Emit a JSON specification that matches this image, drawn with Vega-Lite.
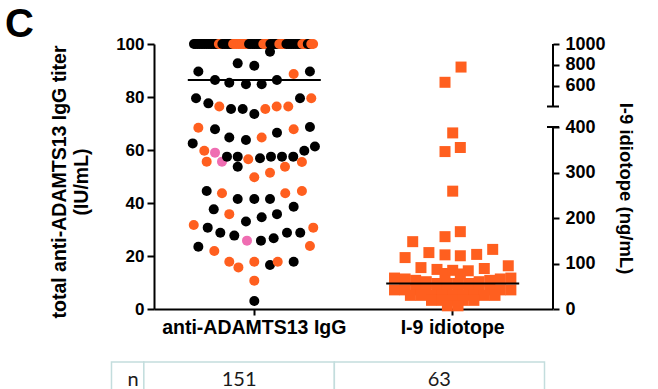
{
 "$schema": "https://vega.github.io/schema/vega-lite/v6.json",
 "background": "white",
 "padding": {"left": 5, "top": 5, "right": 0, "bottom": 0},
 "config": {"view": {"stroke": null}, "font": "Liberation Sans", "axis": {"grid": false}},
 "title": {"text": "C", "anchor": "start", "frame": "group", "dx": -149, "offset": -10, "fontSize": 40, "fontWeight": "bold", "color": "black", "font": "Liberation Sans"},
 "datasets": {
  "igg": [
   {"g":"anti-ADAMTS13 IgG","v":100,"j":-0.76,"s":"A"},
   {"g":"anti-ADAMTS13 IgG","v":100,"j":-0.738,"s":"A"},
   {"g":"anti-ADAMTS13 IgG","v":100,"j":-0.715,"s":"A"},
   {"g":"anti-ADAMTS13 IgG","v":100,"j":-0.693,"s":"A"},
   {"g":"anti-ADAMTS13 IgG","v":100,"j":-0.67,"s":"A"},
   {"g":"anti-ADAMTS13 IgG","v":100,"j":-0.648,"s":"A"},
   {"g":"anti-ADAMTS13 IgG","v":100,"j":-0.626,"s":"A"},
   {"g":"anti-ADAMTS13 IgG","v":100,"j":-0.603,"s":"A"},
   {"g":"anti-ADAMTS13 IgG","v":100,"j":-0.581,"s":"A"},
   {"g":"anti-ADAMTS13 IgG","v":100,"j":-0.558,"s":"A"},
   {"g":"anti-ADAMTS13 IgG","v":100,"j":-0.536,"s":"A"},
   {"g":"anti-ADAMTS13 IgG","v":100,"j":-0.514,"s":"A"},
   {"g":"anti-ADAMTS13 IgG","v":100,"j":-0.491,"s":"A"},
   {"g":"anti-ADAMTS13 IgG","v":100,"j":-0.469,"s":"A"},
   {"g":"anti-ADAMTS13 IgG","v":100,"j":-0.446,"s":"B"},
   {"g":"anti-ADAMTS13 IgG","v":100,"j":-0.424,"s":"B"},
   {"g":"anti-ADAMTS13 IgG","v":100,"j":-0.402,"s":"A"},
   {"g":"anti-ADAMTS13 IgG","v":100,"j":-0.379,"s":"A"},
   {"g":"anti-ADAMTS13 IgG","v":100,"j":-0.357,"s":"A"},
   {"g":"anti-ADAMTS13 IgG","v":100,"j":-0.334,"s":"A"},
   {"g":"anti-ADAMTS13 IgG","v":100,"j":-0.312,"s":"A"},
   {"g":"anti-ADAMTS13 IgG","v":100,"j":-0.29,"s":"A"},
   {"g":"anti-ADAMTS13 IgG","v":100,"j":-0.267,"s":"B"},
   {"g":"anti-ADAMTS13 IgG","v":100,"j":-0.245,"s":"B"},
   {"g":"anti-ADAMTS13 IgG","v":100,"j":-0.222,"s":"B"},
   {"g":"anti-ADAMTS13 IgG","v":100,"j":-0.2,"s":"B"},
   {"g":"anti-ADAMTS13 IgG","v":100,"j":-0.178,"s":"B"},
   {"g":"anti-ADAMTS13 IgG","v":100,"j":-0.155,"s":"B"},
   {"g":"anti-ADAMTS13 IgG","v":100,"j":-0.133,"s":"B"},
   {"g":"anti-ADAMTS13 IgG","v":100,"j":-0.11,"s":"B"},
   {"g":"anti-ADAMTS13 IgG","v":100,"j":-0.088,"s":"B"},
   {"g":"anti-ADAMTS13 IgG","v":100,"j":-0.066,"s":"A"},
   {"g":"anti-ADAMTS13 IgG","v":100,"j":-0.043,"s":"A"},
   {"g":"anti-ADAMTS13 IgG","v":100,"j":-0.021,"s":"A"},
   {"g":"anti-ADAMTS13 IgG","v":100,"j":0.002,"s":"A"},
   {"g":"anti-ADAMTS13 IgG","v":100,"j":0.024,"s":"A"},
   {"g":"anti-ADAMTS13 IgG","v":100,"j":0.046,"s":"A"},
   {"g":"anti-ADAMTS13 IgG","v":100,"j":0.069,"s":"A"},
   {"g":"anti-ADAMTS13 IgG","v":100,"j":0.091,"s":"A"},
   {"g":"anti-ADAMTS13 IgG","v":100,"j":0.114,"s":"B"},
   {"g":"anti-ADAMTS13 IgG","v":100,"j":0.136,"s":"B"},
   {"g":"anti-ADAMTS13 IgG","v":100,"j":0.158,"s":"B"},
   {"g":"anti-ADAMTS13 IgG","v":100,"j":0.181,"s":"B"},
   {"g":"anti-ADAMTS13 IgG","v":100,"j":0.203,"s":"A"},
   {"g":"anti-ADAMTS13 IgG","v":100,"j":0.226,"s":"A"},
   {"g":"anti-ADAMTS13 IgG","v":100,"j":0.248,"s":"A"},
   {"g":"anti-ADAMTS13 IgG","v":100,"j":0.27,"s":"A"},
   {"g":"anti-ADAMTS13 IgG","v":100,"j":0.293,"s":"A"},
   {"g":"anti-ADAMTS13 IgG","v":100,"j":0.315,"s":"B"},
   {"g":"anti-ADAMTS13 IgG","v":100,"j":0.338,"s":"B"},
   {"g":"anti-ADAMTS13 IgG","v":100,"j":0.36,"s":"B"},
   {"g":"anti-ADAMTS13 IgG","v":100,"j":0.382,"s":"B"},
   {"g":"anti-ADAMTS13 IgG","v":100,"j":0.405,"s":"A"},
   {"g":"anti-ADAMTS13 IgG","v":100,"j":0.427,"s":"A"},
   {"g":"anti-ADAMTS13 IgG","v":100,"j":0.45,"s":"A"},
   {"g":"anti-ADAMTS13 IgG","v":100,"j":0.472,"s":"A"},
   {"g":"anti-ADAMTS13 IgG","v":100,"j":0.494,"s":"A"},
   {"g":"anti-ADAMTS13 IgG","v":100,"j":0.517,"s":"A"},
   {"g":"anti-ADAMTS13 IgG","v":100,"j":0.539,"s":"A"},
   {"g":"anti-ADAMTS13 IgG","v":100,"j":0.562,"s":"A"},
   {"g":"anti-ADAMTS13 IgG","v":100,"j":0.584,"s":"A"},
   {"g":"anti-ADAMTS13 IgG","v":100,"j":0.606,"s":"B"},
   {"g":"anti-ADAMTS13 IgG","v":100,"j":0.629,"s":"B"},
   {"g":"anti-ADAMTS13 IgG","v":100,"j":0.651,"s":"B"},
   {"g":"anti-ADAMTS13 IgG","v":100,"j":0.674,"s":"A"},
   {"g":"anti-ADAMTS13 IgG","v":100,"j":0.696,"s":"A"},
   {"g":"anti-ADAMTS13 IgG","v":100,"j":0.718,"s":"B"},
   {"g":"anti-ADAMTS13 IgG","v":100,"j":0.741,"s":"B"},
   {"g":"anti-ADAMTS13 IgG","v":97.1,"j":0.198,"s":"A"},
   {"g":"anti-ADAMTS13 IgG","v":92.7,"j":-0.209,"s":"A"},
   {"g":"anti-ADAMTS13 IgG","v":91.8,"j":0,"s":"A"},
   {"g":"anti-ADAMTS13 IgG","v":89.6,"j":-0.705,"s":"A"},
   {"g":"anti-ADAMTS13 IgG","v":88.7,"j":0.496,"s":"B"},
   {"g":"anti-ADAMTS13 IgG","v":89.6,"j":0.701,"s":"A"},
   {"g":"anti-ADAMTS13 IgG","v":86.4,"j":-0.495,"s":"A"},
   {"g":"anti-ADAMTS13 IgG","v":85.4,"j":-0.315,"s":"A"},
   {"g":"anti-ADAMTS13 IgG","v":84.8,"j":-0.105,"s":"A"},
   {"g":"anti-ADAMTS13 IgG","v":84.8,"j":0.093,"s":"A"},
   {"g":"anti-ADAMTS13 IgG","v":86.4,"j":0.285,"s":"A"},
   {"g":"anti-ADAMTS13 IgG","v":79.5,"j":-0.734,"s":"A"},
   {"g":"anti-ADAMTS13 IgG","v":77.6,"j":-0.579,"s":"A"},
   {"g":"anti-ADAMTS13 IgG","v":76.4,"j":-0.441,"s":"B"},
   {"g":"anti-ADAMTS13 IgG","v":75.5,"j":-0.293,"s":"A"},
   {"g":"anti-ADAMTS13 IgG","v":75.5,"j":-0.146,"s":"A"},
   {"g":"anti-ADAMTS13 IgG","v":73.6,"j":0,"s":"A"},
   {"g":"anti-ADAMTS13 IgG","v":75.5,"j":0.139,"s":"B"},
   {"g":"anti-ADAMTS13 IgG","v":76.4,"j":0.282,"s":"B"},
   {"g":"anti-ADAMTS13 IgG","v":76.4,"j":0.428,"s":"B"},
   {"g":"anti-ADAMTS13 IgG","v":79.5,"j":0.576,"s":"A"},
   {"g":"anti-ADAMTS13 IgG","v":79.5,"j":0.718,"s":"B"},
   {"g":"anti-ADAMTS13 IgG","v":68.4,"j":-0.705,"s":"B"},
   {"g":"anti-ADAMTS13 IgG","v":67.8,"j":-0.495,"s":"A"},
   {"g":"anti-ADAMTS13 IgG","v":64.7,"j":-0.315,"s":"A"},
   {"g":"anti-ADAMTS13 IgG","v":63.8,"j":-0.105,"s":"A"},
   {"g":"anti-ADAMTS13 IgG","v":64.7,"j":0.093,"s":"B"},
   {"g":"anti-ADAMTS13 IgG","v":66.5,"j":0.286,"s":"A"},
   {"g":"anti-ADAMTS13 IgG","v":67.8,"j":0.496,"s":"B"},
   {"g":"anti-ADAMTS13 IgG","v":68.7,"j":0.701,"s":"A"},
   {"g":"anti-ADAMTS13 IgG","v":62.5,"j":-0.776,"s":"A"},
   {"g":"anti-ADAMTS13 IgG","v":59.7,"j":-0.63,"s":"B"},
   {"g":"anti-ADAMTS13 IgG","v":59.0,"j":-0.495,"s":"C"},
   {"g":"anti-ADAMTS13 IgG","v":55.6,"j":-0.407,"s":"C"},
   {"g":"anti-ADAMTS13 IgG","v":57.5,"j":-0.344,"s":"A"},
   {"g":"anti-ADAMTS13 IgG","v":57.5,"j":-0.209,"s":"A"},
   {"g":"anti-ADAMTS13 IgG","v":53.7,"j":-0.209,"s":"A"},
   {"g":"anti-ADAMTS13 IgG","v":56.5,"j":-0.076,"s":"B"},
   {"g":"anti-ADAMTS13 IgG","v":56.9,"j":0.072,"s":"A"},
   {"g":"anti-ADAMTS13 IgG","v":57.5,"j":0.21,"s":"A"},
   {"g":"anti-ADAMTS13 IgG","v":57.5,"j":0.349,"s":"A"},
   {"g":"anti-ADAMTS13 IgG","v":57.5,"j":0.491,"s":"A"},
   {"g":"anti-ADAMTS13 IgG","v":59.7,"j":0.63,"s":"A"},
   {"g":"anti-ADAMTS13 IgG","v":61.3,"j":0.764,"s":"A"},
   {"g":"anti-ADAMTS13 IgG","v":55.6,"j":-0.6,"s":"B"},
   {"g":"anti-ADAMTS13 IgG","v":55.5,"j":0.6,"s":"B"},
   {"g":"anti-ADAMTS13 IgG","v":51.4,"j":0.198,"s":"B"},
   {"g":"anti-ADAMTS13 IgG","v":53.7,"j":0.387,"s":"B"},
   {"g":"anti-ADAMTS13 IgG","v":49.7,"j":0,"s":"B"},
   {"g":"anti-ADAMTS13 IgG","v":44.5,"j":-0.6,"s":"A"},
   {"g":"anti-ADAMTS13 IgG","v":43.7,"j":-0.407,"s":"B"},
   {"g":"anti-ADAMTS13 IgG","v":41.5,"j":-0.209,"s":"A"},
   {"g":"anti-ADAMTS13 IgG","v":41.5,"j":0,"s":"A"},
   {"g":"anti-ADAMTS13 IgG","v":41.5,"j":0.198,"s":"A"},
   {"g":"anti-ADAMTS13 IgG","v":43.7,"j":0.39,"s":"B"},
   {"g":"anti-ADAMTS13 IgG","v":44.5,"j":0.6,"s":"B"},
   {"g":"anti-ADAMTS13 IgG","v":37.6,"j":-0.511,"s":"A"},
   {"g":"anti-ADAMTS13 IgG","v":35.8,"j":-0.315,"s":"B"},
   {"g":"anti-ADAMTS13 IgG","v":33.0,"j":-0.105,"s":"A"},
   {"g":"anti-ADAMTS13 IgG","v":34.6,"j":0.093,"s":"A"},
   {"g":"anti-ADAMTS13 IgG","v":35.8,"j":0.286,"s":"A"},
   {"g":"anti-ADAMTS13 IgG","v":38.6,"j":0.496,"s":"A"},
   {"g":"anti-ADAMTS13 IgG","v":31.7,"j":-0.763,"s":"B"},
   {"g":"anti-ADAMTS13 IgG","v":30.7,"j":-0.587,"s":"A"},
   {"g":"anti-ADAMTS13 IgG","v":28.8,"j":-0.428,"s":"A"},
   {"g":"anti-ADAMTS13 IgG","v":27.7,"j":-0.252,"s":"A"},
   {"g":"anti-ADAMTS13 IgG","v":25.8,"j":-0.092,"s":"C"},
   {"g":"anti-ADAMTS13 IgG","v":25.8,"j":0.084,"s":"A"},
   {"g":"anti-ADAMTS13 IgG","v":26.7,"j":0.244,"s":"A"},
   {"g":"anti-ADAMTS13 IgG","v":28.8,"j":0.412,"s":"A"},
   {"g":"anti-ADAMTS13 IgG","v":28.8,"j":0.579,"s":"A"},
   {"g":"anti-ADAMTS13 IgG","v":30.7,"j":0.743,"s":"B"},
   {"g":"anti-ADAMTS13 IgG","v":23.5,"j":-0.705,"s":"A"},
   {"g":"anti-ADAMTS13 IgG","v":21.9,"j":-0.504,"s":"B"},
   {"g":"anti-ADAMTS13 IgG","v":23.8,"j":0.701,"s":"B"},
   {"g":"anti-ADAMTS13 IgG","v":17.8,"j":-0.315,"s":"B"},
   {"g":"anti-ADAMTS13 IgG","v":15.7,"j":-0.2,"s":"B"},
   {"g":"anti-ADAMTS13 IgG","v":17.8,"j":0,"s":"B"},
   {"g":"anti-ADAMTS13 IgG","v":16.6,"j":0.198,"s":"A"},
   {"g":"anti-ADAMTS13 IgG","v":17.8,"j":0.295,"s":"B"},
   {"g":"anti-ADAMTS13 IgG","v":17.8,"j":0.496,"s":"A"},
   {"g":"anti-ADAMTS13 IgG","v":10.7,"j":0,"s":"B"},
   {"g":"anti-ADAMTS13 IgG","v":3.0,"j":0,"s":"A"}
  ],
  "i9": [
   {"g":"I-9 idiotope","v":68,"j":-0.733},
   {"g":"I-9 idiotope","v":66,"j":-0.6},
   {"g":"I-9 idiotope","v":63,"j":-0.467},
   {"g":"I-9 idiotope","v":60,"j":-0.333},
   {"g":"I-9 idiotope","v":56,"j":-0.2},
   {"g":"I-9 idiotope","v":56,"j":-0.067},
   {"g":"I-9 idiotope","v":56,"j":0.067},
   {"g":"I-9 idiotope","v":56,"j":0.2},
   {"g":"I-9 idiotope","v":60,"j":0.333},
   {"g":"I-9 idiotope","v":63,"j":0.467},
   {"g":"I-9 idiotope","v":66,"j":0.6},
   {"g":"I-9 idiotope","v":68,"j":0.733},
   {"g":"I-9 idiotope","v":42,"j":-0.733},
   {"g":"I-9 idiotope","v":42,"j":-0.6},
   {"g":"I-9 idiotope","v":42,"j":-0.467},
   {"g":"I-9 idiotope","v":42,"j":-0.333},
   {"g":"I-9 idiotope","v":42,"j":-0.2},
   {"g":"I-9 idiotope","v":42,"j":-0.067},
   {"g":"I-9 idiotope","v":42,"j":0.067},
   {"g":"I-9 idiotope","v":42,"j":0.2},
   {"g":"I-9 idiotope","v":42,"j":0.333},
   {"g":"I-9 idiotope","v":42,"j":0.467},
   {"g":"I-9 idiotope","v":42,"j":0.6},
   {"g":"I-9 idiotope","v":42,"j":0.733},
   {"g":"I-9 idiotope","v":30,"j":-0.533},
   {"g":"I-9 idiotope","v":30,"j":-0.4},
   {"g":"I-9 idiotope","v":30,"j":-0.267},
   {"g":"I-9 idiotope","v":30,"j":-0.133},
   {"g":"I-9 idiotope","v":30,"j":0},
   {"g":"I-9 idiotope","v":30,"j":0.133},
   {"g":"I-9 idiotope","v":30,"j":0.267},
   {"g":"I-9 idiotope","v":30,"j":0.4},
   {"g":"I-9 idiotope","v":30,"j":0.533},
   {"g":"I-9 idiotope","v":19,"j":-0.267},
   {"g":"I-9 idiotope","v":19,"j":-0.133},
   {"g":"I-9 idiotope","v":19,"j":0},
   {"g":"I-9 idiotope","v":19,"j":0.133},
   {"g":"I-9 idiotope","v":19,"j":0.267},
   {"g":"I-9 idiotope","v":7,"j":-0.067},
   {"g":"I-9 idiotope","v":7,"j":0.067},
   {"g":"I-9 idiotope","v":779,"j":0.105},
   {"g":"I-9 idiotope","v":633,"j":-0.097},
   {"g":"I-9 idiotope","v":387,"j":0},
   {"g":"I-9 idiotope","v":355,"j":0.096},
   {"g":"I-9 idiotope","v":346,"j":-0.097},
   {"g":"I-9 idiotope","v":259,"j":0},
   {"g":"I-9 idiotope","v":170,"j":0.096},
   {"g":"I-9 idiotope","v":159,"j":-0.097},
   {"g":"I-9 idiotope","v":148,"j":-0.504},
   {"g":"I-9 idiotope","v":124,"j":-0.3},
   {"g":"I-9 idiotope","v":119,"j":-0.097},
   {"g":"I-9 idiotope","v":117,"j":0.096},
   {"g":"I-9 idiotope","v":120,"j":0.302},
   {"g":"I-9 idiotope","v":131,"j":0.504},
   {"g":"I-9 idiotope","v":113,"j":-0.6},
   {"g":"I-9 idiotope","v":91,"j":-0.4},
   {"g":"I-9 idiotope","v":87,"j":-0.198},
   {"g":"I-9 idiotope","v":78,"j":-0.097},
   {"g":"I-9 idiotope","v":85,"j":0},
   {"g":"I-9 idiotope","v":77,"j":0.096},
   {"g":"I-9 idiotope","v":84,"j":0.196},
   {"g":"I-9 idiotope","v":89,"j":0.398},
   {"g":"I-9 idiotope","v":95,"j":0.7}
  ],
  "breaks": [{"lo": 0, "hi": 400}, {"lo": 401, "hi": 1000}],
  "caps": [{"at": 400}, {"at": 401}],
  "table": [
   {"row": "n", "label": "n", "x0": 0, "x1": 0.0747, "mid": 0.05},
   {"row": "n", "label": "151", "x0": 0.0747, "x1": 0.5147, "mid": 0.2947},
   {"row": "n", "label": "63", "x0": 0.5147, "x1": 1, "mid": 0.757}
  ]
 },
 "spacing": 53,
 "bounds": "flush",
 "vconcat": [
  {
   "width": 399,
   "height": 265,
   "resolve": {"scale": {"y": "independent"}, "axis": {"y": "independent"}},
   "layer": [
    {
     "data": {"name": "igg"},
     "layer": [
      {
       "mark": {"type": "point", "shape": "circle", "filled": true, "size": 100, "opacity": 1},
       "encoding": {
        "x": {"field": "g", "type": "nominal", "sort": null,
              "scale": {"type": "band", "domain": ["anti-ADAMTS13 IgG", "I-9 idiotope"], "paddingInner": 0.2, "paddingOuter": 0.1055},
              "axis": {"title": null, "labelAngle": 0, "labelLimit": 0, "labelFontSize": 19.5, "labelFontWeight": "bold", "labelColor": "black", "labelPadding": 3, "domainColor": "black", "domainWidth": 2, "tickColor": "black", "tickWidth": 2, "tickSize": 6}},
        "xOffset": {"field": "j", "type": "quantitative", "scale": {"domain": [-1, 1]}},
        "y": {"field": "v", "type": "quantitative", "scale": {"domain": [0, 100], "nice": false},
              "axis": {"orient": "left", "values": [0, 20, 40, 60, 80, 100], "tickCount": 20, "format": "d", "labelOverlap": false, "domainColor": "black", "domainWidth": 2, "tickColor": "black", "tickWidth": 2, "tickSize": 7, "labelFontSize": 17, "labelFontWeight": "bold", "labelColor": "black", "labelPadding": 3, "title": ["total anti-ADAMTS13 IgG titer", "\u00a0\u00a0\u00a0\u00a0\u00a0\u00a0\u00a0\u00a0\u00a0(IU/mL)"], "titleFontSize": 19.5, "titleFontWeight": "bold", "titleColor": "black", "titlePadding": 24, "titleLineHeight": 22, "titleY": 137.5}},
        "color": {"field": "s", "type": "nominal", "scale": {"domain": ["A", "B", "C"], "range": ["#000000", "#FF5F1F", "#EF6DB2"]}, "legend": null}
       }
      },
      {
       "mark": {"type": "tick", "orient": "horizontal", "size": 133, "thickness": 2, "color": "black"},
       "encoding": {
        "x": {"field": "g", "type": "nominal"},
        "y": {"aggregate": "median", "field": "v", "type": "quantitative"}
       }
      }
     ]
    },
    {
     "layer": [
      {
       "data": {"name": "i9"},
       "mark": {"type": "point", "shape": "square", "filled": true, "size": 121, "opacity": 1, "color": "#FF5F1F"},
       "encoding": {
        "x": {"field": "g", "type": "nominal"},
        "xOffset": {"field": "j", "type": "quantitative"},
        "y": {"field": "v", "type": "quantitative",
              "scale": {"domain": [0, 400, 401, 1000], "range": [265, 83, 62.5, 0], "nice": false, "zero": false},
              "axis": {"orient": "right", "values": [0, 100, 200, 300, 400, 600, 800, 1000], "tickCount": 20, "format": "d", "labelOverlap": false, "labelBound": false, "labelFlush": false, "domain": false, "tickColor": "black", "tickWidth": 2, "tickSize": 6, "labelFontSize": 18, "labelFontWeight": "bold", "labelColor": "black", "labelPadding": 6, "title": "I-9 idiotope (ng/mL)", "titleFontSize": 18.5, "titleFontWeight": "bold", "titleColor": "black", "titlePadding": 10, "titleY": 144}}
       }
      },
      {
       "data": {"name": "i9"},
       "mark": {"type": "tick", "orient": "horizontal", "size": 133, "thickness": 2, "color": "black"},
       "encoding": {
        "x": {"field": "g", "type": "nominal"},
        "y": {"aggregate": "median", "field": "v", "type": "quantitative"}
       }
      },
      {
       "data": {"name": "breaks"},
       "mark": {"type": "rule", "color": "black", "strokeWidth": 2},
       "encoding": {
        "x": {"value": "width"},
        "y": {"field": "lo", "type": "quantitative"},
        "y2": {"field": "hi"}
       }
      },
      {
       "data": {"name": "caps"},
       "mark": {"type": "point", "shape": "M-1,0L1,0", "size": 144, "filled": false, "color": "black", "strokeWidth": 2, "opacity": 1},
       "encoding": {
        "x": {"value": "width"},
        "y": {"field": "at", "type": "quantitative"}
       }
      }
     ]
    }
   ]
  },
  {
   "width": 390.5,
   "height": 35,
   "data": {"name": "table"},
   "encoding": {"y": {"field": "row", "type": "nominal", "axis": null, "scale": {"paddingInner": 0, "paddingOuter": 0}}},
   "layer": [
    {
     "mark": {"type": "rect", "fill": "white", "stroke": "#C3DDDD", "strokeWidth": 1.5},
     "encoding": {
      "x": {"field": "x0", "type": "quantitative", "scale": {"domain": [0.0982, 1], "nice": false, "zero": false}, "axis": null},
      "x2": {"field": "x1"}
     }
    },
    {
     "mark": {"type": "text", "font": "Lato", "fontSize": 20, "color": "#1a1a1a", "baseline": "middle", "align": "center"},
     "encoding": {
      "x": {"field": "mid", "type": "quantitative"},
      "text": {"field": "label"}
     }
    }
   ]
  }
 ]
}
